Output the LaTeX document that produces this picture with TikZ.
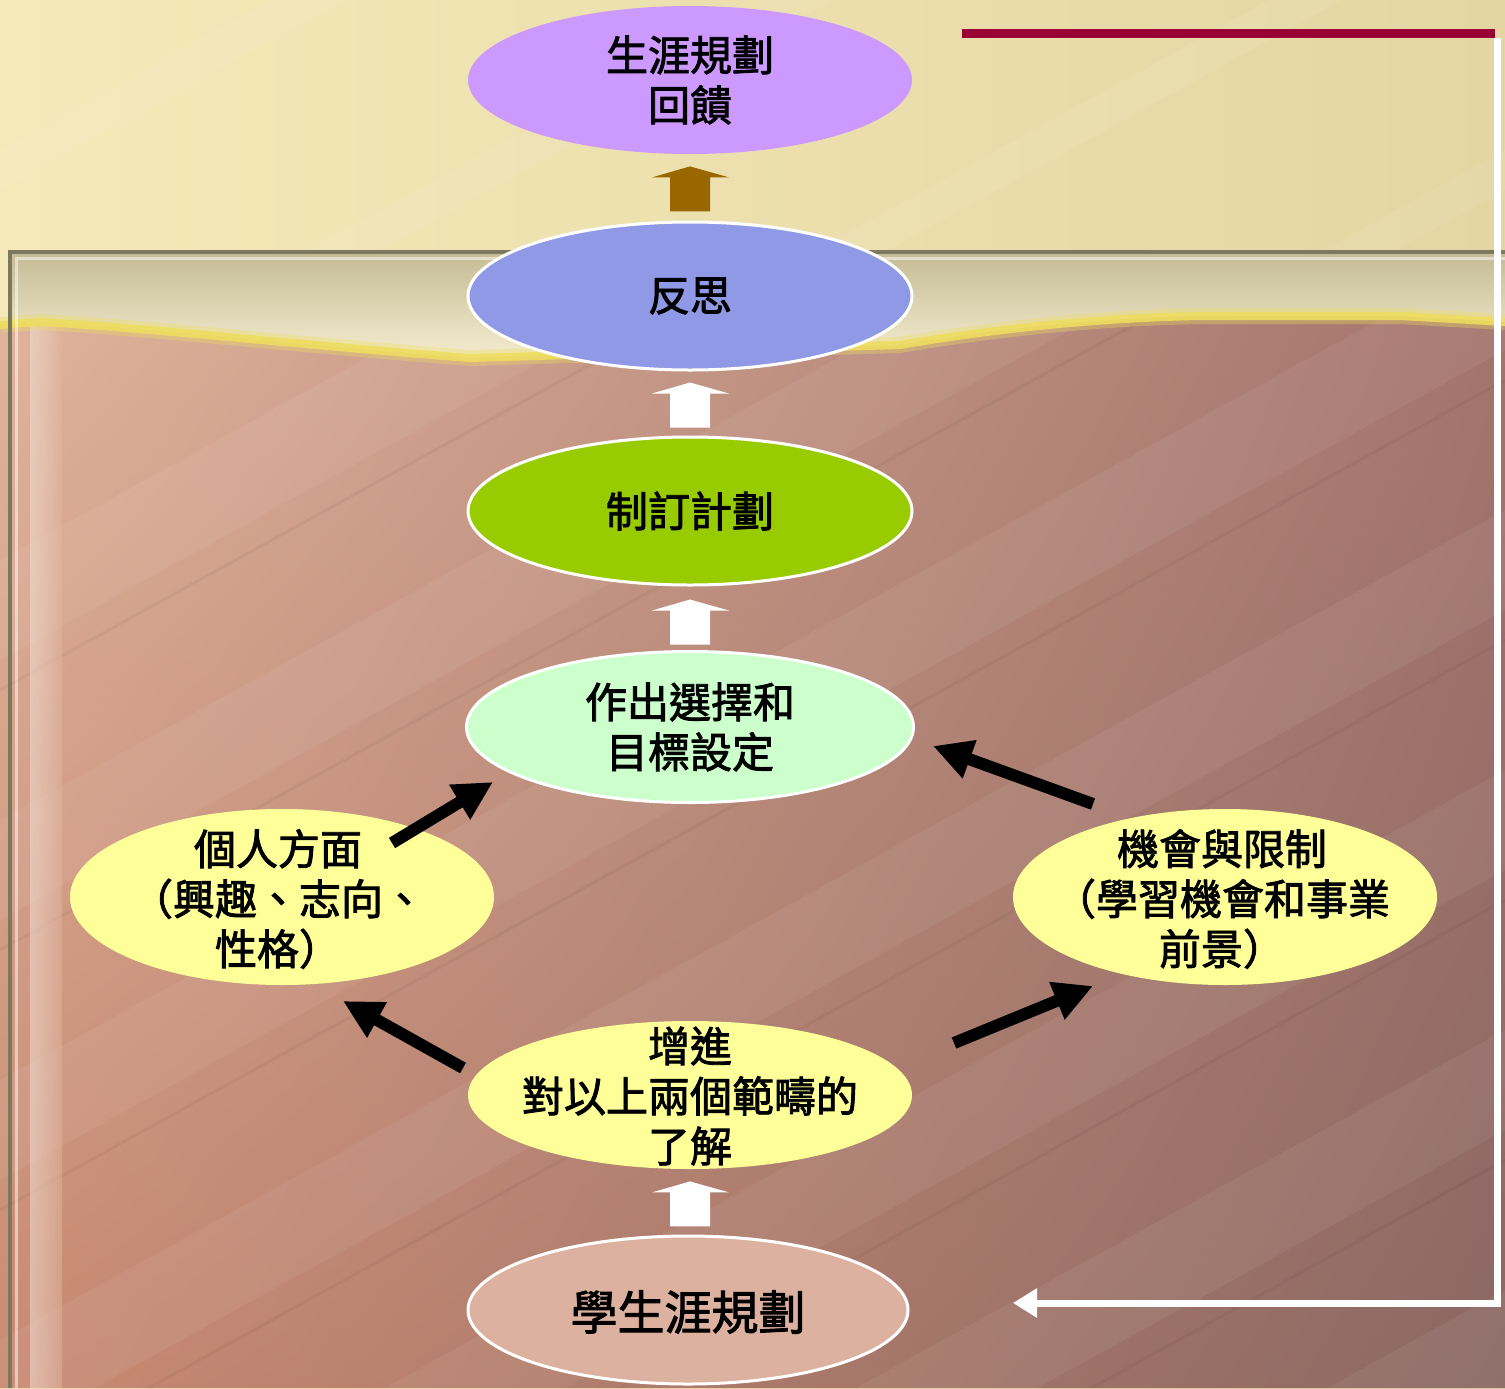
\documentclass[tikz,border=0pt]{standalone}
\usepackage{fontspec}
\newfontfamily\cjk{Noto Sans CJK TC}[FakeBold=2]
\usetikzlibrary{shapes.geometric,arrows.meta,calc,shadings}
\definecolor{creamA}{HTML}{F5E9B9}
\definecolor{creamB}{HTML}{E4D6A3}
\definecolor{woodTL}{HTML}{E0B49C}
\definecolor{woodTR}{HTML}{A4746C}
\definecolor{woodBL}{HTML}{C98A72}
\definecolor{woodBR}{HTML}{8B6863}
\definecolor{frameC}{HTML}{7D7860}
\definecolor{edgeY}{HTML}{EEDD60}
\definecolor{purpleE}{HTML}{CC99FF}
\definecolor{blueE}{HTML}{8F99E6}
\definecolor{greenE}{HTML}{99CC00}
\definecolor{mintE}{HTML}{CCFFCC}
\definecolor{yellowE}{HTML}{FFFF99}
\definecolor{salmonE}{HTML}{DDB1A0}
\definecolor{brownA}{HTML}{996600}
\definecolor{redL}{HTML}{990033}
\newcommand\blockup[2]{\fill[#2] (#1) ++(-20,45) -- ++(0,-34) -- ++(-18,0) -- ++(38,-11) -- ++(39,11) -- ++(-19,0) -- ++(0,34) -- cycle;}
\begin{document}
\begin{tikzpicture}[x=0.5pt,y=-0.5pt,
  ell/.style={ellipse,inner sep=0pt,minimum width=222pt,minimum height=74pt},
  wb/.style={draw=white,line width=1.5pt},
  txt/.style={font=\cjk\fontsize{21pt}{25pt}\selectfont,align=center,inner sep=0pt},
  blk/.style={line width=6pt,-{Triangle[length=19.5pt,width=19pt]}},
  fb/.style={white,line width=3.5pt}]
\useasboundingbox (0,0) rectangle (1505,1388);
% top cream
\shade[left color=creamA,right color=creamB] (0,0) rectangle (1505,1388);
\begin{scope}
\clip (0,0) rectangle (1505,252);
\foreach \c in {150,420,700,980,1250,1520}
  \fill[white,opacity=0.06] (0,\c) -- (1505,\c-830) -- (1505,\c-790) -- (0,\c+40) -- cycle;
\end{scope}
% frame top light area
\shade[top color=frameC!40!creamA,bottom color=creamA!60!white] (10,252) rectangle (1505,370);
% wood
\begin{scope}
\clip (0,325) -- (40,322) .. controls (150,328) and (300,345) .. (470,358)
  -- (900,345) .. controls (1000,328) and (1100,318) .. (1200,316)
  -- (1400,316) -- (1505,322) -- (1505,1388) -- (0,1388) -- cycle;
\shade[upper left=woodTL,upper right=woodTR,lower left=woodBL,lower right=woodBR] (0,300) rectangle (1505,1388);
\foreach \c in {560,820,1080,1340,1600,1860,2120}
  \fill[white,opacity=0.06] (0,\c) -- (1505,\c-830) -- (1505,\c-730) -- (0,\c+100) -- cycle;
\foreach \c in {690,950,1210,1470,1730,1990}
  \draw[black,opacity=0.04,line width=1.5pt] (0,\c) -- (1505,\c-830);
\shade[left color=white!70!woodTL,right color=woodTL,opacity=0.5] (30,300) rectangle (62,1388);
\end{scope}
\draw[edgeY,line width=8pt,opacity=0.35] (0,325) -- (40,322) .. controls (150,328) and (300,345) .. (470,358)
  -- (900,345) .. controls (1000,328) and (1100,318) .. (1200,316)
  -- (1400,316) -- (1505,322);
\draw[edgeY,line width=4pt,opacity=0.9] (0,325) -- (40,322) .. controls (150,328) and (300,345) .. (470,358)
  -- (900,345) .. controls (1000,328) and (1100,318) .. (1200,316)
  -- (1400,316) -- (1505,322);
% frame
\draw[frameC,line width=2pt] (10,1388) -- (10,252) -- (1505,252);
\draw[white,opacity=0.5,line width=1.5pt] (16,1388) -- (16,258) -- (1505,258);
% ellipses
\node[ell,fill=purpleE] (fbk) at (690,80) {};
\node[ell,fill=blueE,wb] (rf) at (690,296) {};
\node[ell,fill=greenE,wb] (pl) at (690,511) {};
\node[ell,fill=mintE,wb,minimum width=223.5pt,minimum height=75.5pt] (ch) at (690,727) {};
\node[ell,fill=yellowE,minimum width=212pt,minimum height=88pt] (pe) at (282,897) {};
\node[ell,fill=yellowE,minimum width=212pt,minimum height=88pt] (op) at (1225,897) {};
\node[ell,fill=yellowE] (un) at (690,1095) {};
\node[ell,fill=salmonE,wb,minimum width=220pt] (st) at (688,1310) {};
% texts
\node[txt] (tfbk) at (fbk.center) {生涯規劃\\回饋};
\node[txt] (trf) at (rf) {反思};
\node[txt] (tpl) at (pl) {制訂計劃};
\node[txt] (tch) at (ch) {作出選擇和\\目標設定};
\node[txt] (tpe) at (278,899) {個人方面\\（興趣、志向、\\性格）};
\node[txt] (top) at (1222,899) {機會與限制\\（學習機會和事業\\前景）};
\node[txt] (tun) at (690,1096) {增進\\對以上兩個範疇的\\了解};
\node[txt,font=\cjk\fontsize{23.5pt}{28pt}\selectfont] (tst) at (688,1312) {學生涯規劃};
% block arrows
\blockup{$(fbk.south)+(0,12)$}{brownA}
\blockup{$(rf.south)+(0,11)$}{white}
\blockup{$(pl.south)+(0,13)$}{white}
\blockup{$(un.south)+(0,12)$}{white}
% black arrows
\coordinate (a1s) at (392,843); \coordinate (a1e) at (493,782);
\coordinate (a2s) at (1093,804); \coordinate (a2e) at (933,746);
\coordinate (a3s) at (463,1068); \coordinate (a3e) at (343,1001);
\coordinate (a4s) at (954,1043); \coordinate (a4e) at (1093,986);
\draw[blk] (a1s) -- (a1e);
\draw[blk] (a2s) -- (a2e);
\draw[blk] (a3s) -- (a3e);
\draw[blk] (a4s) -- (a4e);
% feedback loop
\coordinate (r1) at (962,33); \coordinate (r2) at (1495,33);
\coordinate (c2) at (1497,1303); \coordinate (fe) at (1013,1303);
\draw[redL,line width=4.5pt] (r1) -- (r2);
\draw[fb] (1497,38) -- (c2) -- ++(-3,0);
\draw[fb,-{Triangle[length=12pt,width=14pt]}] (c2) -- (fe);
\end{tikzpicture}
\end{document}
